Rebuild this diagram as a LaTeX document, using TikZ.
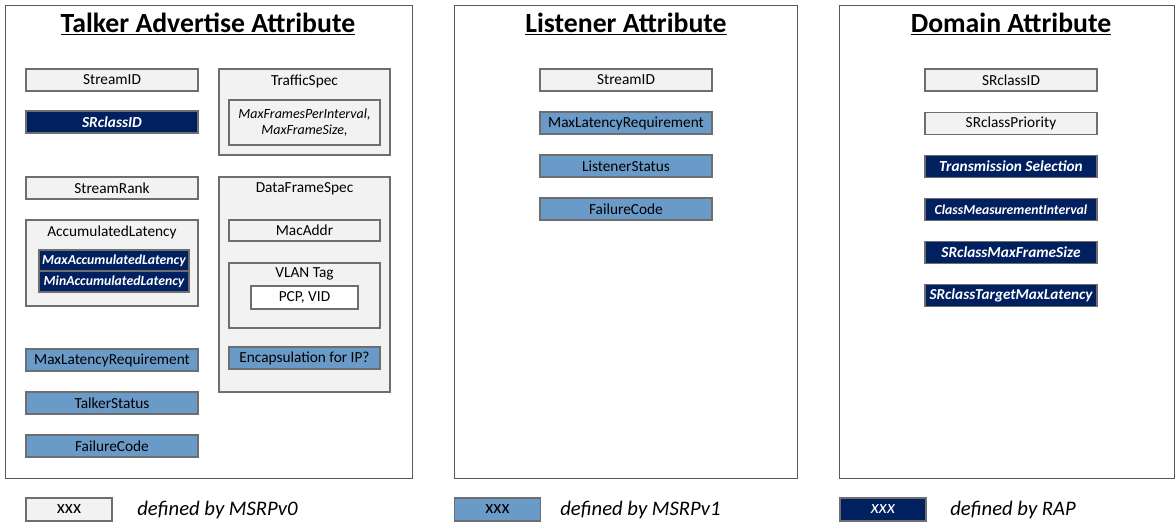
\documentclass[tikz,border=0pt]{standalone}
\usepackage{fontspec}
\setmainfont{Carlito}
\definecolor{lg}{HTML}{F2F2F2}
\definecolor{bluev}{HTML}{6A9BC8}
\definecolor{navy}{HTML}{002060}
\definecolor{bord}{HTML}{6E6E6E}
\definecolor{pbord}{HTML}{595959}
\begin{document}
\begin{tikzpicture}[x=0.75pt,y=-0.75pt,
  panel/.style={draw=pbord, line width=0.9pt, fill=white, anchor=north west, inner sep=0pt},
  ttl/.style={font=\fontsize{20.8}{24}\selectfont\bfseries},
  box/.style={draw=bord, line width=0.9pt, inner sep=0pt, font=\fontsize{11.5}{13}\selectfont},
  v0/.style={box, fill=lg},
  v1/.style={box, fill=bluev},
  rap/.style={box, fill=navy, text=white, font=\fontsize{11.5}{13}\selectfont\bfseries\itshape},
  wide/.style={minimum width={172*0.75pt}, minimum height={22*0.75pt}},
  sub/.style={minimum width={151*0.75pt}, minimum height={22*0.75pt}},
  leg/.style={box, minimum width={86*0.75pt}, minimum height={23*0.75pt}, font=\fontsize{14}{16}\selectfont},
  legtxt/.style={anchor=west, inner sep=0pt, font=\fontsize{15.5}{18}\selectfont\itshape},
  lbl/.style={inner sep=0pt, font=\fontsize{11.5}{13}\selectfont}]
\useasboundingbox (0,0) rectangle (1175,523);

% panels
\node[panel, minimum width={407*0.75pt}, minimum height={473*0.75pt}] (p1) at (5,5) {};
\node[panel, minimum width={343*0.75pt}, minimum height={473*0.75pt}] (p2) at (454,5) {};
\node[panel, minimum width={335*0.75pt}, minimum height={473*0.75pt}] (p3) at (839,5) {};
\node[ttl] (t1) at (208,24) {\underline{Talker Advertise Attribute}};
\node[ttl] (t2) at (626,24) {\underline{Listener Attribute}};
\node[ttl] (t3) at (1011,24) {\underline{Domain Attribute}};

% panel 1 left column
\node[v0, wide] (sid1) at (112,80) {StreamID};
\node[rap, wide] (src1) at (112,122) {SRclassID};
\node[v0, wide] (srank) at (112,188) {StreamRank};
\node[v0, minimum width={172*0.75pt}, minimum height={86*0.75pt}] (acc) at (112,263) {};
\node[lbl] (acct) at (112,232) {AccumulatedLatency};
\node[rap, minimum width={150*0.75pt}, minimum height={21*0.75pt}, font=\fontsize{10.3}{12}\selectfont\bfseries\itshape] (maxacc) at (114,260.5) {MaxAccumulatedLatency};
\node[rap, minimum width={150*0.75pt}, minimum height={21*0.75pt}, font=\fontsize{10.3}{12}\selectfont\bfseries\itshape] (minacc) at (114,281.5) {MinAccumulatedLatency};
\node[v1, wide] (mlr1) at (112,360) {MaxLatencyRequirement};
\node[v1, wide] (tstat) at (112,403) {TalkerStatus};
\node[v1, wide] (fc1) at (112,446) {FailureCode};

% panel 1 right column
\node[v0, minimum width={171*0.75pt}, minimum height={86*0.75pt}] (ts) at (304.5,112) {};
\node[lbl] (tst) at (304.5,81) {TrafficSpec};
\node[v0, minimum width={151*0.75pt}, minimum height={45*0.75pt}, align=center, font=\fontsize{10.5}{12}\selectfont\itshape] (tsin) at (304.5,122.5) {MaxFramesPerInterval,\\MaxFrameSize,};
\node[v0, minimum width={171*0.75pt}, minimum height={215*0.75pt}] (dfs) at (304.5,284.5) {};
\node[lbl] (dfst) at (304.5,189) {DataFrameSpec};
\node[v0, minimum width={151*0.75pt}, minimum height={21*0.75pt}] (mac) at (304.5,230.5) {MacAddr};
\node[v0, minimum width={151*0.75pt}, minimum height={65*0.75pt}] (vlan) at (304.5,295.5) {};
\node[lbl] (vlant) at (304.5,274) {VLAN Tag};
\node[v0, minimum width={107*0.75pt}, minimum height={23*0.75pt}, fill=white] (pcp) at (304.5,297.5) {PCP, VID};
\node[v1, sub] (enc) at (304.5,358) {Encapsulation for IP?};

% panel 2
\node[v0, wide] (sid2) at (626,80) {StreamID};
\node[v1, wide] (mlr2) at (626,123) {MaxLatencyRequirement};
\node[v1, wide] (lstat) at (626,166) {ListenerStatus};
\node[v1, wide] (fc2) at (626,209) {FailureCode};

% panel 3
\node[v0, wide] (src3) at (1011,80) {SRclassID};
\node[v0, wide] (srp) at (1011,123.5) {SRclassPriority};
\node[rap, wide] (tsel) at (1011,166.5) {Transmission Selection};
\node[rap, wide, font=\fontsize{10.3}{12}\selectfont\bfseries\itshape] (cmi) at (1011,209.5) {ClassMeasurementInterval};
\node[rap, wide] (smfs) at (1011,252.5) {SRclassMaxFrameSize};
\node[rap, wide, font=\fontsize{11.4}{13}\selectfont\bfseries\itshape] (stml) at (1011,295.5) {SRclassTargetMaxLatency};

% legend
\node[v0, leg] (l0) at (69,509.5) {xxx};
\node[legtxt] (l0t) at (137,510) {defined by MSRPv0};
\node[v1, leg] (l1) at (497.5,509.5) {xxx};
\node[legtxt] (l1t) at (560,510) {defined by MSRPv1};
\node[rap, leg, font=\fontsize{14}{16}\selectfont\itshape] (l2) at (883,509.5) {xxx};
\node[legtxt] (l2t) at (950,510) {defined by RAP};
\end{tikzpicture}
\end{document}
